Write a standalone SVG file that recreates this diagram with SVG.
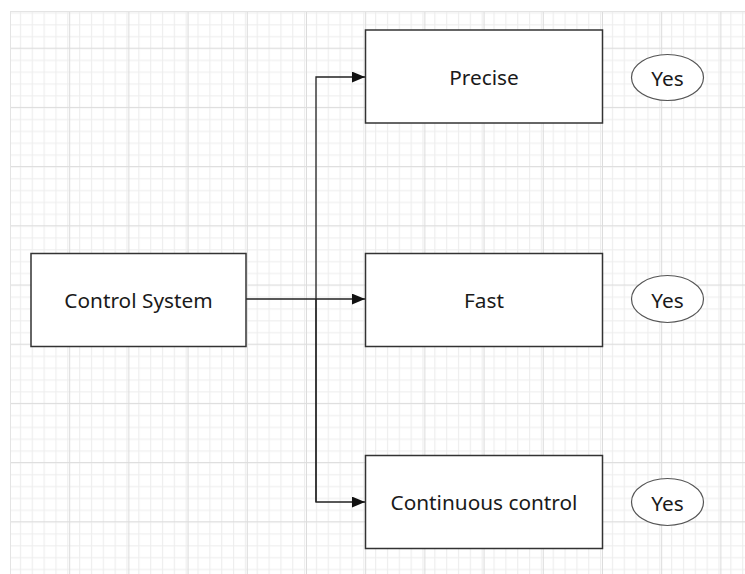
<svg xmlns="http://www.w3.org/2000/svg" width="745" height="574" viewBox="0 0 745 574">
<style>
.box{fill:#fff;stroke:#333;stroke-width:1.5}
.ell{fill:#fff;stroke:#555;stroke-width:1.2}
.lbl{font-family:"Noto Sans","Open Sans","Liberation Sans",sans-serif;font-size:20.8px;fill:#1a1a1a;text-anchor:middle;dominant-baseline:central}
.con{fill:none;stroke:#222;stroke-width:1.3}
</style>
<defs>
<pattern id="minor" x="10" y="47.7" width="11.84" height="11.84" patternUnits="userSpaceOnUse">
<path d="M0.5 0V11.84M0 0.5H11.84" stroke="#ececec" stroke-width="1" fill="none"/>
</pattern>
<pattern id="major" x="10" y="47.7" width="59.2" height="59.2" patternUnits="userSpaceOnUse">
<rect width="59.2" height="59.2" fill="url(#minor)"/>
<path d="M0.5 0V59.2M0 0.5H59.2" stroke="#dcdcdc" stroke-width="1" fill="none"/>
</pattern>
<marker id="arr" viewBox="0 0 12 10" refX="12" refY="5" markerWidth="13" markerHeight="11" markerUnits="userSpaceOnUse" orient="auto">
<path d="M0 0L12 5L0 10z" fill="#111"/>
</marker>
</defs>
<rect width="745" height="574" fill="#fff"/>
<rect x="10" y="11" width="735" height="563" fill="url(#major)"/>
<path d="M10 11.5H745M10.5 11V574" stroke="#e4e4e4" stroke-width="1"/>
<g id="connectors">
<path class="con" d="M246 299H365" marker-end="url(#arr)"/>
<path class="con" d="M316 502V77H365" marker-end="url(#arr)"/>
<path class="con" d="M316 299V502H365" marker-end="url(#arr)"/>
</g>
<g id="control-system">
<rect class="box" x="31" y="253.5" width="215" height="93"/>
<text class="lbl" x="138.5" y="300">Control System</text>
</g>
<g id="precise">
<rect class="box" x="365.5" y="30" width="237" height="93"/>
<text class="lbl" x="484" y="77">Precise</text>
</g>
<g id="fast">
<rect class="box" x="365.5" y="253.5" width="237" height="93"/>
<text class="lbl" x="484" y="300">Fast</text>
</g>
<g id="continuous-control">
<rect class="box" x="365.5" y="455.5" width="237" height="93"/>
<text class="lbl" x="484" y="502">Continuous control</text>
</g>
<g id="yes1">
<ellipse class="ell" cx="667.5" cy="77.5" rx="36" ry="23"/>
<text class="lbl" x="667.5" y="78">Yes</text>
</g>
<g id="yes2">
<ellipse class="ell" cx="667.5" cy="299" rx="36" ry="23.5"/>
<text class="lbl" x="667.5" y="300">Yes</text>
</g>
<g id="yes3">
<ellipse class="ell" cx="667.5" cy="502" rx="36" ry="23.5"/>
<text class="lbl" x="667.5" y="503">Yes</text>
</g>
</svg>
